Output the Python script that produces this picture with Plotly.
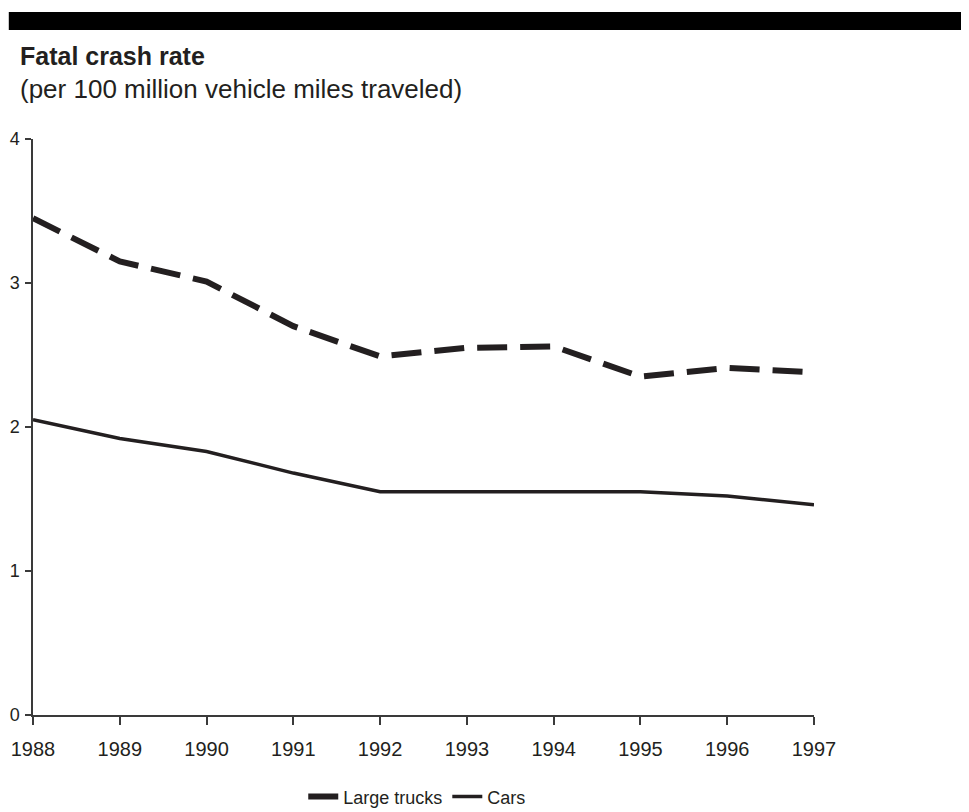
import plotly.graph_objects as go

years = [1988, 1989, 1990, 1991, 1992, 1993, 1994, 1995, 1996, 1997]
large_trucks = [3.45, 3.15, 3.01, 2.70, 2.49, 2.55, 2.56, 2.35, 2.41, 2.38]
cars = [2.05, 1.92, 1.83, 1.68, 1.55, 1.55, 1.55, 1.55, 1.52, 1.46]
y_ticks = [0, 1, 2, 3, 4]

INK = "#231f20"
AXIS = "#3a3a3a"
SANS = "Liberation Sans, Arial, sans-serif"
TICKFONT = dict(family=SANS, size=20, color=INK)

fig = go.Figure()
fig.add_trace(go.Scatter(
    x=years, y=large_trucks, mode="lines", name="Large trucks",
    line=dict(color=INK, width=6, dash="30px,13px"),
))
fig.add_trace(go.Scatter(
    x=years, y=cars, mode="lines", name="Cars",
    line=dict(color=INK, width=3.5),
))

fig.update_layout(
    width=961, height=804,
    margin=dict(l=25, r=155, t=131, b=97, autoexpand=False),
    paper_bgcolor="white", plot_bgcolor="white",
    showlegend=True,
    legend=dict(orientation="h", x=0.492, xanchor="center", y=-0.142, yanchor="middle",
                font=dict(family=SANS, size=18, color=INK), bgcolor="rgba(0,0,0,0)"),
    shapes=[dict(type="rect", xref="paper", yref="paper",
                 x0=-0.031, x1=1.2, y0=1.1892, y1=1.2205,
                 fillcolor="black", line=dict(width=0))],
    annotations=[
        dict(text="<b>Fatal crash rate</b>", xref="paper", yref="paper",
             x=-0.0192, y=1.144, xanchor="left", yanchor="middle", showarrow=False,
             font=dict(family=SANS, size=25, color=INK)),
        dict(text="(per 100 million vehicle miles traveled)", xref="paper", yref="paper",
             x=-0.0192, y=1.086, xanchor="left", yanchor="middle", showarrow=False,
             font=dict(family=SANS, size=26, color=INK)),
    ],
)
fig.update_xaxes(
    range=[1988, 1997], tickvals=years, ticktext=[str(y) for y in years],
    showline=True, linecolor=AXIS, linewidth=1.5, showgrid=False, zeroline=False,
    ticks="outside", ticklen=8, tickcolor=AXIS, tickwidth=1.5,
    tickfont=TICKFONT, ticklabelstandoff=7, automargin=False,
)
fig.update_yaxes(
    range=[0, 4], tickvals=y_ticks, ticktext=[str(v) for v in y_ticks],
    showline=True, linecolor=AXIS, linewidth=1.5, showgrid=False, zeroline=False,
    ticks="outside", ticklen=6, tickcolor=AXIS, tickwidth=1.5,
    tickfont=dict(family=SANS, size=18, color=INK), ticklabelstandoff=2, automargin=False,
)

fig.write_html("out.html")
